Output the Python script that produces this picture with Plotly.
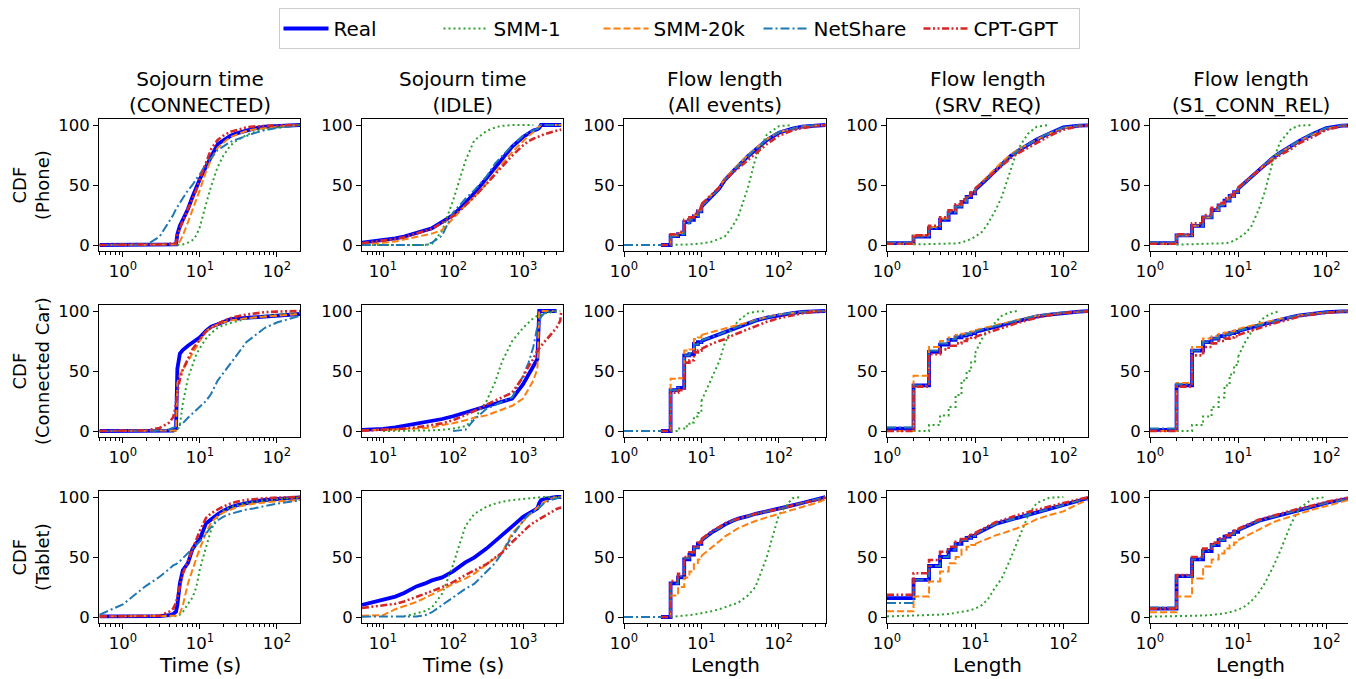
import plotly.graph_objects as go

N = None
# screen is 1356x679; the page body adds an 8px offset, so the figure is drawn 8px in
SCREEN_W, SCREEN_H, OFF = 1356, 679, 8
W, H = SCREEN_W - OFF, SCREEN_H - OFF

# ---------------- x grids (data sample points) ----------------
T_CONN = [0.5, 1, 2, 3, 4, 4.5, 4.9, 5.1, 5.5, 6, 7, 8, 9, 10, 12, 14, 17, 20, 25, 30, 40, 50, 70, 100, 200]
T_IDLE = [5, 7, 10, 15, 20, 30, 40, 50, 70, 100, 150, 200, 300, 400, 500, 700, 1000, 1200, 1400, 1600,
          1700, 1800, 2000, 2500, 3000, 3400, 3500]
LEN = [1, 2, 3, 4, 5, 6, 7, 8, 9, 10, 12, 14, 17, 20, 25, 30, 40, 50, 70, 100, 150, 200, 300, 400]

# ---------------- Phone ----------------
PH_CONN_REAL = [0, 0, 0, 0, 0, 0, 0.5, 9, 16, 21, 30, 40, 48.5, 55, 65.3, 74, 84, 87, 91, 93, 95.5, 97, 98.6, 99.3, 100]
PH_CONN_SMM1 = [N, N, N, N, N, N, N, 0, 0, 0.5, 2, 4, 8, 15, 34, 49, 65, 74, 83, 87, 91.5, 94, 96.7, 98, 100]
PH_CONN_SMM20K = [0, 0, 0, 0, 0, 0, 0, 0.5, 3, 8, 19, 30, 38, 46, 61, 71.5, 81, 85, 90, 92, 95, 96.3, 97.5, 98.5, 100]
PH_CONN_NETSHARE = [0, 0, 0, 7, 19, 25, 30, 32, 35, 39, 45.5, 50, 55, 59, 67.5, 73, 79, 82, 86, 88, 91, 93, 95.7, 97.5, 100]
PH_CONN_CPTGPT = [0, 0, 0.2, 0.5, 1, 1.2, 1.5, 8, 14, 20, 30, 38.5, 46, 55, 68, 80, 87.5, 91, 94.4, 96, 98, 98.8, 99.3, 99.6, 100]

PH_IDLE_REAL = [2, 3, 3.7, 5.5, 7, 10, 12, 14, 19.3, 25, 35, 43, 55.6, 65, 72, 82, 90, 93.5, 95.5, 96.5, 97.5, 100, 100, 100, 100, 100, 100]
PH_IDLE_SMM1 = [0, 0, 0, 0, 0, 0, 0, 1, 12, 37, 70, 87, 95, 98, 99.3, 100, 100, 100, 100, N, N, N, N, N, N, N, N]
PH_IDLE_SMM20K = [0.5, 1, 1.8, 3, 4.5, 6.5, 8, 9.5, 12.5, 22.5, 33, 40, 51, 60, 67.7, 77.5, 86.5, 91, 94, 97, 98, 100, 100, 100, 100, 100, 100]
PH_IDLE_NETSHARE = [0, 0, 0, 0, 0, 0, 0, 2, 8, 27, 38.5, 45.5, 57, 68, 74, 83, 91, 94, 95.5, 96.5, 97.5, 100, 100, 100, 100, 100, 100]
PH_IDLE_CPTGPT = [1.5, 2.5, 3.5, 5, 6.5, 9.5, 11.5, 13.5, 18.5, 24, 33, 40, 51, 59, 65.5, 74.5, 83, 86.5, 88.5, 90, 90.7, 91.3, 92.3, 94, 95.2, 96, 96.2]

PH_ALL_REAL = [N, N, 0, 7.5, 9, 19, 21, 24, 28, 32, 37, 41, 47, 54, 61, 66, 74, 79.5, 87.5, 93.5, 97, 98.6, 99.5, 100]
PH_ALL_SMM1 = [N, N, N, 0, 0, 0.3, 0.5, 0.7, 1, 1.3, 2, 3, 5, 7, 15, 24, 48, 72, 92, 99, 100, N, N, N]
PH_ALL_SMM20K = [N, N, 0, 8, 10, 20, 22, 25, 29, 33, 38, 42, 48, 55, 62, 67, 75, 80, 88, 94, 97, 98.8, 99.6, 100]
PH_ALL_NETSHARE = [0, 0, 0, 7, 9, 18, 21, 24, 28, 32, 37, 41, 47, 54, 61, 66, 74, 80, 88, 94, 97, 99, 99.7, 100]
PH_ALL_CPTGPT = [N, N, 0, 9, 11, 21, 23, 26, 30, 34, 39, 43, 48, 54, 60, 64, 71, 76, 84, 91, 95.5, 97.5, 99, 100]

PH_SRV_REAL = [1.5, 7, 14, 21, 27, 32, 36, 40, 43, 46, 52, 56, 62, 67, 74, 78, 83.5, 88, 93, 98, 99.5, 100, 100, 100]
PH_SRV_SMM1 = [N, 0.5, 0.7, 0.8, 1, 1.3, 2, 3.5, 5, 7, 11, 18, 29, 40, 62.5, 79, 93, 98.6, 100, N, N, N, N, N]
PH_SRV_SMM20K = [1, 8, 15, 22, 28, 33, 37, 41, 44, 47, 53, 58, 64, 69, 75, 79, 84, 88, 93, 97.5, 99.5, 100, 100, 100]
PH_SRV_NETSHARE = [2, 7, 14, 21, 27, 32, 36, 40, 43, 46, 52, 56, 62, 67, 74, 78, 84, 88.5, 93.5, 98, 99.5, 100, 100, 100]
PH_SRV_CPTGPT = [1, 8, 16, 23, 29, 34, 38, 41, 44, 47, 52, 56, 61, 66, 72, 76, 81, 85.5, 91, 96, 99, 100, 100, 100]

PH_S1_REAL = [1.5, 8, 16, 23, 29, 33, 37, 41, 44, 47, 52, 57, 62, 67, 73, 77, 83, 87, 92.5, 97.5, 99.5, 100, 100, 100]
PH_S1_SMM1 = [N, 0.3, 0.5, 0.6, 0.8, 1, 1.5, 2, 3.5, 5.5, 9.7, 15, 29, 44, 71, 86, 97, 99.5, 100, N, N, N, N, N]
PH_S1_SMM20K = [1, 8, 16, 23, 29, 34, 38, 41, 44, 47, 52, 57, 62, 67, 73, 77, 83, 87, 92, 97, 99.5, 100, 100, 100]
PH_S1_NETSHARE = [2, 8, 16, 23, 29, 33, 37, 41, 44, 47, 52, 57, 62, 67, 73, 77, 83, 87.5, 93, 97.5, 99.5, 100, 100, 100]
PH_S1_CPTGPT = [1, 9, 18, 25, 31, 35, 39, 42, 45, 48, 53, 57, 62, 66, 71, 75, 80, 85, 90, 96, 99, 100, 100, 100]

# ---------------- Connected Car ----------------
CAR_CONN_REAL = [0, 0, 0, 0, 0, 0.3, 2, 52, 64.5, 67.5, 71, 73.5, 76, 78, 83.5, 87, 89, 90.5, 93.3, 93.7, 94.3, 95, 95.7, 96.3, 97.5]
CAR_CONN_SMM1 = [N, N, N, N, 0, 0, 0, 0, 5, 23, 44, 55, 64, 69, 77, 81.5, 86, 88, 90, 91.5, 93.5, 94.7, 96, 97, 98.6]
CAR_CONN_SMM20K = [0, 0, 0, 0, 0, 0, 0.5, 40, 47, 51, 58, 64, 70, 75.5, 83, 86.5, 89, 90.5, 92, 93, 94, 94.5, 95.5, 96, 97.5]
CAR_CONN_NETSHARE = [0, 0, 0, 0.5, 1.5, 2.5, 3.5, 4, 5, 6.5, 11, 14.5, 17, 20.5, 25, 31, 42, 48, 56, 63, 74, 79, 86, 90.4, 96]
CAR_CONN_CPTGPT = [0, 0, 0.5, 2.5, 7, 11.5, 22, 33, 43, 51, 60, 68, 72.5, 76.5, 83, 86, 89, 91.5, 94, 95.5, 97, 98, 99, 99.5, 100]

CAR_IDLE_REAL = [1, 1.3, 1.8, 3, 4.3, 5.8, 7.2, 8.3, 10, 12.3, 15.5, 17.5, 21, 23, 25, 27, 39, 46.5, 54, 60, 100, 100, 100, 100, 100, N, N]
CAR_IDLE_SMM1 = [N, N, 0, 0, 0, 0, 0.3, 0.5, 1, 2, 4, 10, 24.7, 41, 57.7, 75, 86, 90.5, 94, 96, 96.5, 97, 98, 99, 99.7, 100, N]
CAR_IDLE_SMM20K = [0.5, 0.7, 1, 1.2, 1.5, 2, 2.5, 3, 5, 6.5, 9, 11, 13, 15.5, 18, 21, 27, 35, 42, 52, 100, 100, 100, 100, 100, N, N]
CAR_IDLE_NETSHARE = [N, N, N, N, N, N, N, N, N, 0, 1, 9.5, 18.5, 21.5, 24.5, 28, 46, 57, 70, 87, 91, 95, 98, 100, 100, N, N]
CAR_IDLE_CPTGPT = [0.3, 0.5, 0.8, 1.5, 2, 3, 4, 5, 6.5, 9, 13, 16.5, 22, 25, 28, 32, 45, 54, 60, 67, 69, 71, 74, 80.5, 86, 92, 100]

CAR_ALL_REAL = [N, N, 0, 34, 36, 63, 64, 72.5, 74, 75, 77, 78.5, 80.5, 82.5, 85, 87, 89.5, 92, 94.5, 96.5, 98.3, 99.2, 99.8, 100]
CAR_ALL_SMM1 = [N, N, N, 0, 2, 4, 7, 12, 15, 25, 36, 46, 58, 73, 85, 92, 98, 99.5, 100, N, N, N, N, N]
CAR_ALL_SMM20K = [N, N, 0, 43.5, 44, 67, 68, 76.6, 78, 80, 81.5, 82.5, 84, 85.5, 87, 88.5, 90.5, 92.5, 95, 97, 98.6, 99.3, 99.8, 100]
CAR_ALL_NETSHARE = [0, 0, 0, 34, 36, 63, 65, 72, 74, 75.5, 77, 78.5, 80.5, 82.5, 85, 87, 89.5, 92, 94.5, 97, 98.5, 99.3, 99.8, 100]
CAR_ALL_CPTGPT = [N, N, 0, 32, 34, 57, 59, 65.5, 67, 68.5, 71, 73, 75, 76.5, 79.5, 81.5, 85, 87.5, 91, 94, 96.5, 98, 99.5, 100]

CAR_SRV_REAL = [2, 38, 66, 72, 76, 78, 79.5, 80.5, 81.5, 82.5, 84, 85.5, 87, 88.5, 90.5, 92, 94, 95.5, 97, 98.5, 99.5, 100, 100, 100]
CAR_SRV_SMM1 = [N, 0, 5, 13, 20, 30, 42, 50, 58, 65, 77, 84, 91, 96, 99, 100, N, N, N, N, N, N, N, N]
CAR_SRV_SMM20K = [0, 46, 70, 75, 78, 80, 81, 82, 83, 84, 85.5, 86.5, 88, 89.5, 91, 92.5, 94.5, 96, 97.5, 98.5, 99.5, 100, 100, 100]
CAR_SRV_NETSHARE = [3, 38, 67, 73, 76.5, 78.5, 80, 81, 82, 83, 84.5, 86, 87.5, 89, 91, 92.5, 94.5, 96, 97.5, 98.8, 99.6, 100, 100, 100]
CAR_SRV_CPTGPT = [0, 37, 64, 68, 71, 73, 75, 76.5, 77.5, 78.5, 80.5, 82, 84, 85.5, 88, 90, 92.5, 94.5, 96.5, 98.3, 99.5, 100, 100, 100]

CAR_S1_REAL = [1, 38, 67, 74, 77, 79, 80.5, 81.5, 82.5, 83.5, 85, 86.5, 88, 89.5, 91.5, 93, 95, 96.3, 97.8, 99, 99.7, 100, 100, 100]
CAR_S1_SMM1 = [N, 0, 5, 12, 20, 28, 38, 47, 55, 62, 74, 82, 90, 95, 98.5, 100, N, N, N, N, N, N, N, N]
CAR_S1_SMM20K = [0, 40, 70, 77, 79, 81, 82, 83, 84, 85, 86.5, 88, 89.5, 90.5, 92, 93.5, 95, 96.5, 98, 99, 99.7, 100, 100, 100]
CAR_S1_NETSHARE = [2, 39, 67, 74, 77, 79, 80.5, 81.5, 82.5, 83.5, 85, 86.5, 88, 89.5, 91.5, 93, 95, 96.3, 97.8, 99, 99.7, 100, 100, 100]
CAR_S1_CPTGPT = [0, 37, 63, 70, 73, 75, 77, 78, 79, 80, 82, 83.5, 85.5, 87, 89.5, 91, 93.5, 95.5, 97, 98.5, 99.5, 100, 100, 100]

# ---------------- Tablet ----------------
TAB_CONN_REAL = [0.5, 0.5, 0.5, 0.7, 1.5, 2.5, 4.5, 10, 28, 39, 45, 56.5, 61.5, 65, 78, 81.5, 85.5, 88.5, 91.5, 93, 95, 96.2, 97.5, 98.5, 99.7]
TAB_CONN_SMM1 = [N, N, N, N, 0.5, 0.5, 0.7, 0.8, 2, 4, 11, 16, 25, 40, 58, 72.5, 83.5, 88.5, 91.5, 93, 95, 96, 97.3, 98.3, 99.5]
TAB_CONN_SMM20K = [0.5, 0.5, 0.5, 0.5, 0.5, 0.5, 0.7, 1, 3, 9.5, 28, 40, 49, 57, 70, 79, 84, 87, 89.5, 91.5, 93.5, 94.5, 95.5, 96.3, 97.5]
TAB_CONN_NETSHARE = [2, 10.5, 26, 33.5, 40, 43, 44, 44.8, 46.5, 49, 53, 57, 60, 63, 69.5, 75, 80.5, 83.5, 86, 87.5, 89.5, 90.5, 92.5, 94.5, 97.2]
TAB_CONN_CPTGPT = [0.5, 0.5, 0.8, 1, 4.5, 7, 12, 17, 25.5, 36, 47, 56, 64.5, 72, 82.5, 86.5, 89.5, 92, 94.5, 96, 97.6, 98.3, 99, 99.5, 100]

TAB_IDLE_REAL = [10, 12, 14.5, 17, 20, 25.5, 28, 30.5, 33, 38, 45.5, 49.5, 57, 63, 67.5, 75.5, 83.5, 86.5, 88.7, 90.5, 95, 97.3, 98.5, 99.5, 100, 100, 100]
TAB_IDLE_SMM1 = [N, N, N, N, 0.5, 3, 5, 8, 19.5, 43.4, 75.7, 85.7, 92, 94.5, 96, 97.5, 98.6, 99, 99.3, 99.6, 99.7, 99.8, 100, 100, 100, 100, 100]
TAB_IDLE_SMM20K = [1, 1, 1.5, 6.5, 9, 12.5, 16, 19, 23, 27.5, 32, 36, 44, 49, 53.5, 70, 80, 84.5, 88, 91, 92.5, 94, 95.5, 98.6, 99.5, 100, 100]
TAB_IDLE_NETSHARE = [0.3, 0.3, 0.3, 0.3, 0.3, 0.5, 1.5, 4, 10, 16, 23.5, 27.5, 38, 45, 53.5, 67.5, 80, 85.5, 88, 89.5, 91, 92.5, 95, 97.5, 99, 100, 100]
TAB_IDLE_CPTGPT = [7.5, 8.5, 9.5, 11, 13, 16.5, 19.5, 21.5, 25, 29, 35, 38.5, 44, 49.5, 53.5, 62.5, 71.5, 75.5, 78.5, 80.5, 81.5, 82.5, 84.5, 87.5, 90, 91, 91.2]

TAB_ALL_REAL = [N, N, 0, 28, 33, 48, 52, 58, 61, 64, 68, 71, 74, 77, 80, 82, 84, 86, 88, 90, 93, 95, 97.5, 100]
TAB_ALL_SMM1 = [N, N, N, 0, 0.5, 1, 1.5, 2, 2.5, 3, 4, 5, 6.5, 8, 10, 12, 18, 25, 50, 85, 99, 100, N, N]
TAB_ALL_SMM20K = [N, N, 0, 18, 25, 33, 38, 44, 48, 51, 55, 59, 63, 67, 71, 74, 77.5, 80, 83, 86, 89, 92, 95, 98]
TAB_ALL_NETSHARE = [0, 0, 0, 28, 34, 49, 53, 58, 61, 64, 68, 71, 74, 77, 80, 82, 84, 86, 88, 90, 93, 95, 97.5, 100]
TAB_ALL_CPTGPT = [N, N, 0, 30, 36, 50, 54, 59, 62, 65, 69, 72, 75, 78, 80.5, 82, 84, 86, 88, 90, 93, 95, 97, 99.5]

TAB_SRV_REAL = [15.7, 31, 42.5, 50, 56, 61, 64, 66, 67.5, 69, 72, 75, 77.5, 79, 81, 82.5, 85, 87.5, 90.5, 93.5, 97, 99.5, 100, 100]
TAB_SRV_SMM1 = [0.5, 1, 1.5, 2, 2.5, 3.3, 4.2, 5, 6, 7, 10, 15, 25, 32, 48, 63, 85, 95, 99.5, 100, N, N, N, N]
TAB_SRV_SMM20K = [4.7, 17, 29.6, 38, 44.8, 50, 56, 58.6, 60, 61, 63.5, 65.5, 68, 69.5, 72, 74, 78, 81.5, 85, 88, 94.5, 98, 100, 100]
TAB_SRV_NETSHARE = [11.6, 31, 42.5, 50, 56, 61, 64, 66, 67.5, 69, 72, 75, 77.5, 79, 81, 82.5, 85, 87.5, 90.5, 93.5, 97, 99.5, 100, 100]
TAB_SRV_CPTGPT = [18.5, 36.5, 47.5, 54.4, 58.6, 62.7, 65, 67, 68.5, 70, 73, 76, 79, 80.5, 83, 84.8, 87.6, 89.5, 92, 95, 98, 100, 100, 100]

TAB_S1_REAL = [7, 34, 48, 55, 60, 64, 67, 69, 71, 72.5, 75, 77.5, 80, 81.5, 83.5, 85, 87.5, 89.5, 92, 95, 97.5, 99.5, 100, 100]
TAB_S1_SMM1 = [0.3, 0.5, 0.8, 1.2, 1.7, 2.3, 3, 4, 5, 6, 9, 13, 20, 28, 42, 55, 78, 91, 98.5, 100, N, N, N, N]
TAB_S1_SMM20K = [4, 17, 32, 42, 48, 53, 57, 60, 62, 64, 67, 70, 73, 76, 79, 81, 84, 86.5, 89.5, 92.5, 96, 98.5, 100, 100]
TAB_S1_NETSHARE = [8, 34, 48, 55, 60, 64, 67, 69, 71, 72.5, 75, 77.5, 80, 81.5, 83.5, 85, 87.5, 89.5, 92, 95, 97.5, 99.5, 100, 100]
TAB_S1_CPTGPT = [7, 35, 50, 57, 62, 65.5, 68, 70, 72, 73.5, 76, 78.5, 81, 82.5, 84.5, 86, 88.5, 90.5, 93, 96, 98.5, 100, 100, 100]

# ---------------- labels ----------------
SERIES = ["Real", "SMM-1", "SMM-20k", "NetShare", "CPT-GPT"]
COL_TITLES = ["Sojourn time<br>(CONNECTED)", "Sojourn time<br>(IDLE)", "Flow length<br>(All events)",
              "Flow length<br>(SRV_REQ)", "Flow length<br>(S1_CONN_REL)"]
ROW_LABELS = ["CDF<br>(Phone)", "CDF<br>(Connected Car)", "CDF<br>(Tablet)"]
X_LABELS = ["Time (s)", "Time (s)", "Length", "Length", "Length"]
Y_TICKS = [0, 50, 100]

# ---------------- assemble panels ----------------
def series(real, smm1, smm20k, netshare, cptgpt):
    return [real, smm1, smm20k, netshare, cptgpt]

PANELS = [
    [(T_CONN, series(PH_CONN_REAL, PH_CONN_SMM1, PH_CONN_SMM20K, PH_CONN_NETSHARE, PH_CONN_CPTGPT)),
     (T_IDLE, series(PH_IDLE_REAL, PH_IDLE_SMM1, PH_IDLE_SMM20K, PH_IDLE_NETSHARE, PH_IDLE_CPTGPT)),
     (LEN, series(PH_ALL_REAL, PH_ALL_SMM1, PH_ALL_SMM20K, PH_ALL_NETSHARE, PH_ALL_CPTGPT)),
     (LEN, series(PH_SRV_REAL, PH_SRV_SMM1, PH_SRV_SMM20K, PH_SRV_NETSHARE, PH_SRV_CPTGPT)),
     (LEN, series(PH_S1_REAL, PH_S1_SMM1, PH_S1_SMM20K, PH_S1_NETSHARE, PH_S1_CPTGPT))],
    [(T_CONN, series(CAR_CONN_REAL, CAR_CONN_SMM1, CAR_CONN_SMM20K, CAR_CONN_NETSHARE, CAR_CONN_CPTGPT)),
     (T_IDLE, series(CAR_IDLE_REAL, CAR_IDLE_SMM1, CAR_IDLE_SMM20K, CAR_IDLE_NETSHARE, CAR_IDLE_CPTGPT)),
     (LEN, series(CAR_ALL_REAL, CAR_ALL_SMM1, CAR_ALL_SMM20K, CAR_ALL_NETSHARE, CAR_ALL_CPTGPT)),
     (LEN, series(CAR_SRV_REAL, CAR_SRV_SMM1, CAR_SRV_SMM20K, CAR_SRV_NETSHARE, CAR_SRV_CPTGPT)),
     (LEN, series(CAR_S1_REAL, CAR_S1_SMM1, CAR_S1_SMM20K, CAR_S1_NETSHARE, CAR_S1_CPTGPT))],
    [(T_CONN, series(TAB_CONN_REAL, TAB_CONN_SMM1, TAB_CONN_SMM20K, TAB_CONN_NETSHARE, TAB_CONN_CPTGPT)),
     (T_IDLE, series(TAB_IDLE_REAL, TAB_IDLE_SMM1, TAB_IDLE_SMM20K, TAB_IDLE_NETSHARE, TAB_IDLE_CPTGPT)),
     (LEN, series(TAB_ALL_REAL, TAB_ALL_SMM1, TAB_ALL_SMM20K, TAB_ALL_NETSHARE, TAB_ALL_CPTGPT)),
     (LEN, series(TAB_SRV_REAL, TAB_SRV_SMM1, TAB_SRV_SMM20K, TAB_SRV_NETSHARE, TAB_SRV_CPTGPT)),
     (LEN, series(TAB_S1_REAL, TAB_S1_SMM1, TAB_S1_SMM20K, TAB_S1_NETSHARE, TAB_S1_CPTGPT))],
]

STYLE = {
    "Real": dict(color="#0000ff", width=3.8, dash="solid"),
    "SMM-1": dict(color="#2ca02c", width=2, dash="2px,3px"),
    "SMM-20k": dict(color="#ff7f0e", width=2, dash="7px,3px"),
    "NetShare": dict(color="#1f77b4", width=2, dash="9px,3px,2px,3px"),
    "CPT-GPT": dict(color="#d62728", width=2.6, dash="7px,2.5px,2px,2.5px,2px,2.5px"),
}

# ---------------- layout geometry (screen pixels) ----------------
COL_PX = [(99, 300), (362, 563), (624, 826), (887, 1088), (1150, 1351)]
ROW_PX = [(119, 251), (305, 437), (491, 623)]
X_RANGES = [[-0.31, 2.30], [0.70, 3.57], [0, 2.61], [0, 2.28], [0, 2.28]]
X_MAJOR = [[1, 10, 100], [10, 100, 1000], [1, 10, 100], [1, 10, 100], [1, 10, 100]]
SUP = {1: "10<sup>0</sup>", 10: "10<sup>1</sup>", 100: "10<sup>2</sup>", 1000: "10<sup>3</sup>"}
MINOR = [m * 10 ** e for e in range(-1, 4) for m in range(2, 10)]


def px_x(p):
    return (p - OFF) / W


def px_y(p):
    return 1 - (p - OFF) / H


FONT = "DejaVu Sans"
fig = go.Figure()
layout = {}

for r in range(3):
    for c in range(5):
        k = r * 5 + c + 1
        xs, ys = PANELS[r][c]
        for si, name in enumerate(SERIES):
            ys_s = ys[si]
            if c >= 2 and not (name == "SMM-1" and r != 1):
                # integer lengths: stepped CDF for small values, then a smooth tail
                cut = xs.index(10)
                parts = [(xs[:cut + 1], ys_s[:cut + 1], "hv"), (xs[cut:], ys_s[cut:], "linear")]
            else:
                parts = [(xs, ys_s, "linear")]
            for pi, (px_, py_, shape) in enumerate(parts):
                fig.add_trace(go.Scatter(
                    x=px_, y=py_, mode="lines", name=name, legendgroup=name,
                    showlegend=(k == 1 and pi == 0), line=dict(shape=shape, **STYLE[name]),
                    xaxis=f"x{k}", yaxis=f"y{k}", connectgaps=False,
                ))
        x0, x1 = COL_PX[c]
        y0, y1 = ROW_PX[r]
        axis_common = dict(showline=True, linecolor="black", linewidth=1.1, mirror=True,
                           ticks="outside", ticklen=5, tickwidth=1.1, tickcolor="black",
                           showgrid=False, zeroline=False, automargin=False,
                           tickfont=dict(family=FONT, size=16.5, color="black"))
        layout[f"xaxis{k}"] = dict(
            domain=[px_x(x0), px_x(x1)], anchor=f"y{k}", type="log", range=X_RANGES[c],
            tickmode="array", tickvals=X_MAJOR[c], ticktext=[SUP[v] for v in X_MAJOR[c]],
            minor=dict(tickmode="array", tickvals=MINOR, ticks="outside", ticklen=3,
                       tickwidth=0.9, tickcolor="black", showgrid=False),
            **axis_common)
        layout[f"yaxis{k}"] = dict(
            domain=[px_y(y1), px_y(y0)], anchor=f"x{k}", range=[-5, 105],
            tickmode="array", tickvals=Y_TICKS, ticktext=[str(v) for v in Y_TICKS],
            **axis_common)

annotations = []
for c in range(5):
    cx = px_x((COL_PX[c][0] + COL_PX[c][1]) / 2)
    annotations.append(dict(text=COL_TITLES[c], x=cx, y=px_y(119), xref="paper", yref="paper",
                            xanchor="center", yanchor="bottom", showarrow=False,
                            font=dict(family=FONT, size=20, color="black")))
    annotations.append(dict(text=X_LABELS[c], x=cx, y=px_y(665), xref="paper", yref="paper",
                            xanchor="center", yanchor="middle", showarrow=False,
                            font=dict(family=FONT, size=20, color="black")))
for r in range(3):
    cy = px_y((ROW_PX[r][0] + ROW_PX[r][1]) / 2)
    annotations.append(dict(text=ROW_LABELS[r], x=px_x(31), y=cy, xref="paper", yref="paper",
                            xanchor="center", yanchor="middle", showarrow=False, textangle=-90,
                            font=dict(family=FONT, size=18, color="black")))

fig.update_layout(
    width=W, height=H, margin=dict(l=0, r=0, t=0, b=0, pad=0, autoexpand=False),
    paper_bgcolor="white", plot_bgcolor="white",
    font=dict(family=FONT, color="black"),
    annotations=annotations,
    legend=dict(orientation="h", x=px_x(679), xanchor="center", y=1.0, yanchor="top",
                bordercolor="#cccccc", borderwidth=1, bgcolor="white",
                font=dict(family=FONT, size=20, color="black"), itemwidth=45,
                entrywidth=100, entrywidthmode="pixels"),
    **layout,
)

fig.write_html("out.html")
